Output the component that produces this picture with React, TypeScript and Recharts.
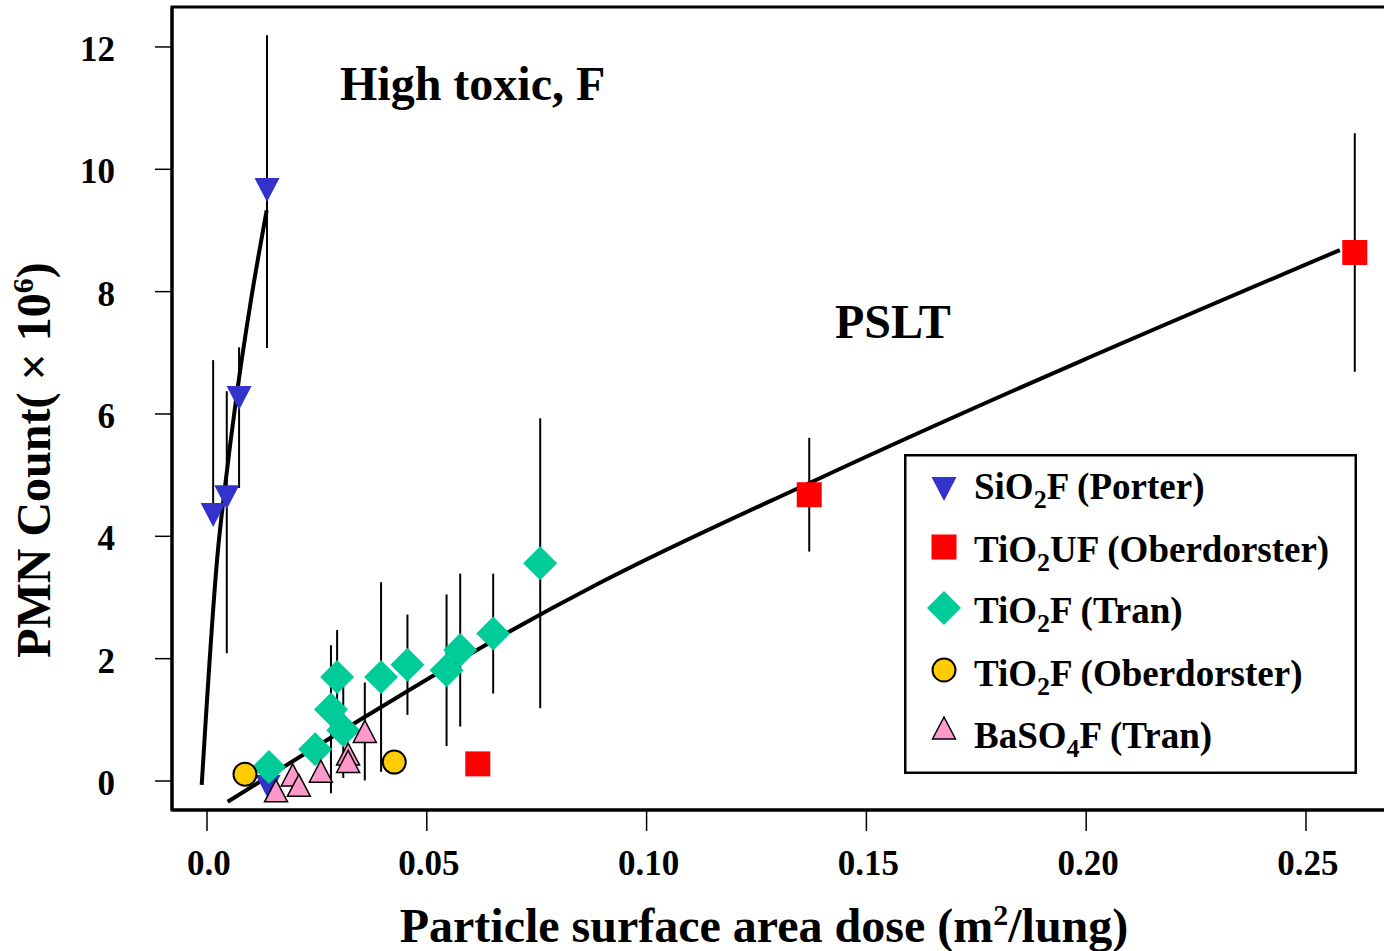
import React from "react";
import {
  ComposedChart,
  Customized,
  ErrorBar,
  Legend,
  Line,
  ReferenceArea,
  Scatter,
  XAxis,
  YAxis,
} from "recharts";

const FONT = "'Liberation Serif', 'Times New Roman', serif";

// axis ranges (plot box runs a bit past the right edge of the picture)
const X_MIN = -0.00796;
const X_MAX = 0.27025;
const Y_MIN = -0.474;
const Y_MAX = 12.653;

const xTicks = [0, 0.05, 0.1, 0.15, 0.2, 0.25];
const xTickLabels = ["0.0", "0.05", "0.10", "0.15", "0.20", "0.25"];
const yTicks = [0, 2, 4, 6, 8, 10, 12];

// err = [below, above]
const sio2Porter = [
  { x: 0.0014, y: 4.35, err: [0, 2.53] },
  { x: 0.0045, y: 4.64, err: [2.55, 1.73] },
  { x: 0.0073, y: 6.26, err: [1.47, 0.83] },
  { x: 0.01365, y: 9.66, err: [2.58, 2.53] },
  { x: 0.0139, y: -0.1, err: [0, 0] },
];

const tio2UfOber = [
  { x: 0.0616, y: 0.28, err: 0 },
  { x: 0.137, y: 4.68, err: 0.93 },
  { x: 0.2611, y: 8.64, err: 1.95 },
];

const tio2FTran = [
  { x: 0.0141, y: 0.23, err: 0 },
  { x: 0.0246, y: 0.52, err: 0 },
  { x: 0.0282, y: 1.17, err: [1.37, 1.05] },
  { x: 0.031, y: 0.83, err: 0.78 },
  { x: 0.0296, y: 1.7, err: 0.77 },
  { x: 0.0396, y: 1.7, err: 1.55 },
  { x: 0.0456, y: 1.9, err: 0.82 },
  { x: 0.0545, y: 1.81, err: 1.24 },
  { x: 0.0576, y: 2.14, err: 1.25 },
  { x: 0.0651, y: 2.41, err: 0.98 },
  { x: 0.0758, y: 3.56, err: 2.37 },
];

const tio2FOber = [
  { x: 0.00864, y: 0.11 },
  { x: 0.0426, y: 0.31 },
];

const baso4Tran = [
  { x: 0.0157, y: -0.16, err: 0 },
  { x: 0.0195, y: 0.1, err: 0 },
  { x: 0.0209, y: -0.07, err: 0 },
  { x: 0.0259, y: 0.16, err: 0 },
  { x: 0.0321, y: 0.44, err: 0 },
  { x: 0.0321, y: 0.32, err: 0 },
  { x: 0.0359, y: 0.81, err: 0.8 },
];

// fitted curves
const highToxicFit = [
  { x: -0.0012, y: -0.065 },
  { x: 0.0025, y: 3.78 },
  { x: 0.0041, y: 4.81 },
  { x: 0.0066, y: 6.23 },
  { x: 0.01, y: 7.86 },
  { x: 0.01358, y: 9.33 },
];

const psltFit = [
  { x: 0.00471, y: -0.34 },
  { x: 0.0355, y: 1.03 },
  { x: 0.0628, y: 2.2 },
  { x: 0.0894, y: 3.24 },
  { x: 0.1394, y: 4.95 },
  { x: 0.2577, y: 8.68 },
];

const BLUE = "#3333CC";
const RED = "#FF0000";
const GREEN = "#00CC99";
const YELLOW = "#FFCC00";
const PINK = "#FF99CC";

const downTri = (cx: number, cy: number) => (
  <polygon
    points={`${cx - 12.5},${cy - 12} ${cx + 12.5},${cy - 12} ${cx},${cy + 12}`}
    fill={BLUE}
  />
);
const square = (cx: number, cy: number) => (
  <rect x={cx - 12.5} y={cy - 12.5} width={25} height={25} fill={RED} />
);
const diamond = (cx: number, cy: number) => (
  <polygon
    points={`${cx},${cy - 17} ${cx + 17},${cy} ${cx},${cy + 17} ${cx - 17},${cy}`}
    fill={GREEN}
  />
);
const circle = (cx: number, cy: number) => (
  <circle cx={cx} cy={cy} r={11.5} fill={YELLOW} stroke="#000" strokeWidth={2} />
);
const upTri = (cx: number, cy: number) => (
  <polygon
    points={`${cx},${cy - 11} ${cx + 11.5},${cy + 11} ${cx - 11.5},${cy + 11}`}
    fill={PINK}
    stroke="#000"
    strokeWidth={1.5}
    strokeLinejoin="miter"
  />
);

const shapeOf = (draw: (cx: number, cy: number) => React.ReactElement) => (p: any) =>
  draw(p.cx, p.cy);

const legendRows = [
  { draw: downTri, parts: ["SiO", "2", "F (Porter)"], cy: 35, base: 45 },
  { draw: square, parts: ["TiO", "2", "UF (Oberdorster)"], cy: 93, base: 108 },
  { draw: diamond, parts: ["TiO", "2", "F (Tran)"], cy: 154, base: 169 },
  { draw: circle, parts: ["TiO", "2", "F (Oberdorster)"], cy: 216, base: 232 },
  { draw: upTri, parts: ["BaSO", "4", "F (Tran)"], cy: 274, base: 294 },
];

const LegendBox = () => (
  <svg width={453} height={320}>
    <rect x={1.25} y={1.25} width={450.5} height={317.5} fill="#fff" stroke="#000" strokeWidth={2.5} />
    {legendRows.map((r, i) => (
      <g key={i}>
        {r.draw(40, r.cy)}
        <text x={70} y={r.base} fontFamily={FONT} fontWeight="bold" fontSize={37} fill="#000">
          {r.parts[0]}
          <tspan dy={9} fontSize={26}>{r.parts[1]}</tspan>
          <tspan dy={-9}>{r.parts[2]}</tspan>
        </text>
      </g>
    ))}
  </svg>
);

const XTick = ({ x, y, payload }: any) => (
  <text x={x + 2} y={y + 44} textAnchor="middle" fontFamily={FONT} fontWeight="bold" fontSize={35} fill="#000">
    {xTickLabels[xTicks.indexOf(payload.value)]}
  </text>
);

const YTick = ({ x, y, payload }: any) => (
  <text x={x - 40} y={y + 14} textAnchor="end" fontFamily={FONT} fontWeight="bold" fontSize={35} fill="#000">
    {payload.value}
  </text>
);

const Annotations = () => (
  <g fontFamily={FONT} fontWeight="bold" fill="#000">
    <text x={340} y={100} fontSize={48}>High toxic, F</text>
    <text x={835} y={338} fontSize={48}>PSLT</text>
    <text x={764} y={942} fontSize={48} textAnchor="middle">
      Particle surface area dose (m
      <tspan dy={-17} fontSize={30}>2</tspan>
      <tspan dy={17}>/lung)</tspan>
    </text>
    <text transform="translate(50,460) rotate(-90)" textAnchor="middle" fontSize={48}>
      PMN Count( × 10
      <tspan dy={-17} fontSize={30}>6</tspan>
      <tspan dy={17}>)</tspan>
    </text>
  </g>
);

export default function App() {
  return (
    <div style={{ position: "absolute", left: 0, top: 0, width: 1384, height: 951, overflow: "hidden", background: "#fff" }}>
      <ComposedChart width={1420} height={951} margin={{ top: 7, right: 25, bottom: 0, left: 0 }}>
        <XAxis
          type="number"
          dataKey="x"
          domain={[X_MIN, X_MAX]}
          ticks={xTicks}
          interval={0}
          allowDataOverflow
          height={141}
          tickSize={21}
          tickMargin={0}
          axisLine={{ stroke: "#000", strokeWidth: 3 }}
          tickLine={{ stroke: "#000", strokeWidth: 1.5 }}
          tick={<XTick />}
        />
        <YAxis
          type="number"
          dataKey="y"
          domain={[Y_MIN, Y_MAX]}
          ticks={yTicks}
          interval={0}
          allowDataOverflow
          width={172}
          tickSize={17}
          tickMargin={0}
          axisLine={{ stroke: "#000", strokeWidth: 3 }}
          tickLine={{ stroke: "#000", strokeWidth: 1.5 }}
          tick={<YTick />}
        />
        <ReferenceArea x1={X_MIN} x2={X_MAX} y1={Y_MIN} y2={Y_MAX} fill="none" stroke="#000" strokeWidth={3} ifOverflow="visible" />
        <Line data={highToxicFit} dataKey="y" type="monotone" stroke="#000" strokeWidth={4} dot={false} activeDot={false} legendType="none" isAnimationActive={false} />
        <Line data={psltFit} dataKey="y" type="monotone" stroke="#000" strokeWidth={4} dot={false} activeDot={false} legendType="none" isAnimationActive={false} />
        <Scatter name="SiO2F (Porter)" data={sio2Porter} dataKey="y" shape={shapeOf(downTri)} isAnimationActive={false}>
          <ErrorBar dataKey="err" direction="y" width={0} stroke="#000" strokeWidth={2} isAnimationActive={false} zIndex={350} />
        </Scatter>
        <Scatter name="TiO2UF (Oberdorster)" data={tio2UfOber} dataKey="y" shape={shapeOf(square)} isAnimationActive={false}>
          <ErrorBar dataKey="err" direction="y" width={0} stroke="#000" strokeWidth={2} isAnimationActive={false} zIndex={350} />
        </Scatter>
        <Scatter name="TiO2F (Tran)" data={tio2FTran} dataKey="y" shape={shapeOf(diamond)} isAnimationActive={false}>
          <ErrorBar dataKey="err" direction="y" width={0} stroke="#000" strokeWidth={2} isAnimationActive={false} zIndex={350} />
        </Scatter>
        <Scatter name="TiO2F (Oberdorster)" data={tio2FOber} dataKey="y" shape={shapeOf(circle)} isAnimationActive={false} />
        <Scatter name="BaSO4F (Tran)" data={baso4Tran} dataKey="y" shape={shapeOf(upTri)} isAnimationActive={false}>
          <ErrorBar dataKey="err" direction="y" width={0} stroke="#000" strokeWidth={2} isAnimationActive={false} zIndex={350} />
        </Scatter>
        <Legend
          layout="vertical"
          align="center"
          verticalAlign="middle"
          wrapperStyle={{ left: 904, top: 454, width: 453, height: 320 }}
          content={() => <LegendBox />}
        />
        <Customized component={<Annotations />} />
      </ComposedChart>
    </div>
  );
}
